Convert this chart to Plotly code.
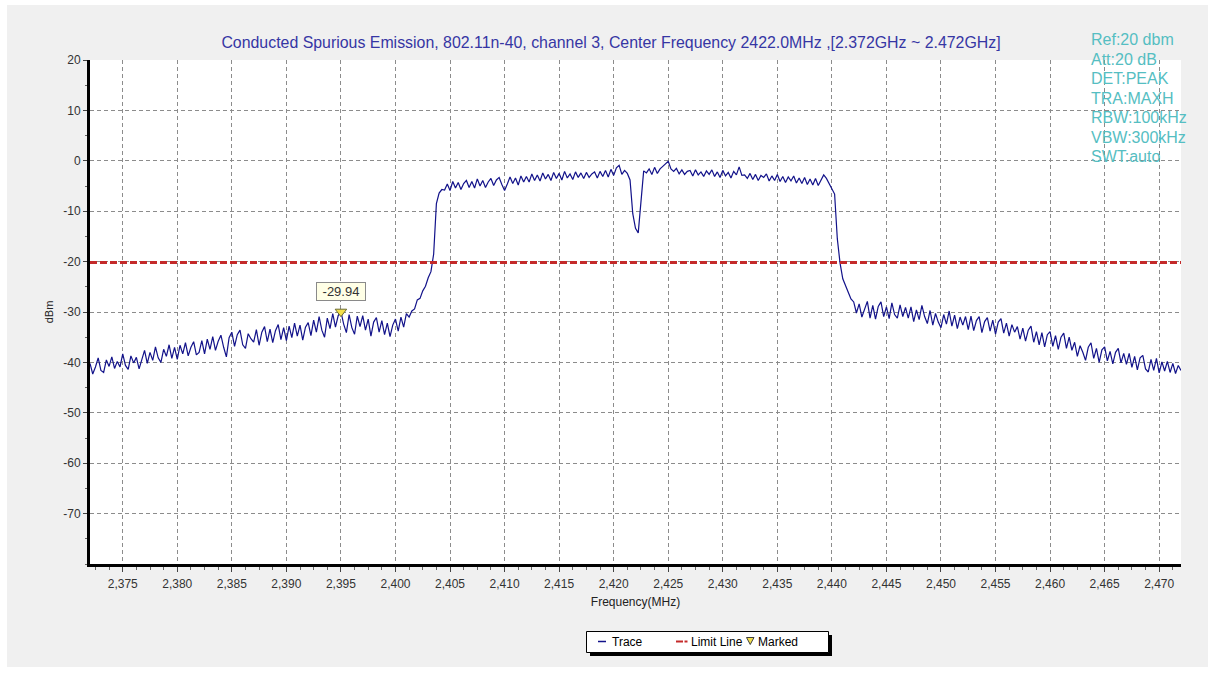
import plotly.graph_objects as go

# ---- sweep data -------------------------------------------------------------
FREQ_START_MHZ = 2372.0
FREQ_STEP_MHZ = 0.25

level_dbm = [
    -40.2, -42.3, -40.9, -39.1, -41.6, -42.0, -39.5, -40.8, -38.9, -41.2, -39.8, -40.9, -38.3, -40.6, -41.4, -38.7, -40.1, -39.0, -41.3, -39.4,
    -37.6, -40.2, -38.0, -39.6, -36.9, -39.1, -40.0, -37.4, -38.8, -36.5, -39.2, -37.0, -39.4, -36.6, -38.3, -36.1, -38.7, -37.0, -35.9, -38.5,
    -38.0, -35.7, -38.3, -35.4, -37.4, -34.9, -37.6, -35.8, -34.6, -37.0, -38.9, -35.1, -34.0, -36.8, -34.5, -33.6, -36.5, -37.2, -34.3, -35.3,
    -36.0, -33.5, -36.6, -34.0, -32.9, -35.9, -33.4, -36.1, -33.7, -32.5, -35.5, -33.1, -35.7, -32.8, -35.1, -32.2, -34.8, -32.6, -35.6, -33.0,
    -32.1, -34.7, -31.6, -34.0, -30.9, -33.6, -35.0, -31.2, -33.3, -30.3, -33.0, -30.7, -29.94, -32.4, -34.1, -30.5, -33.1, -34.4, -30.8, -32.9,
    -30.7, -33.6, -31.4, -34.8, -32.0, -31.1, -34.0, -31.7, -34.5, -32.2, -34.9, -32.6, -31.4, -33.8, -31.0, -33.0, -30.3, -31.0, -29.8, -29.4,
    -27.6, -27.3, -25.8, -24.9, -23.2, -22.0, -18.5, -8.5, -6.4, -5.7, -5.8, -4.6, -5.9, -4.1, -5.4, -4.3, -5.7, -4.5, -3.9, -5.3,
    -4.1, -5.4, -3.6, -5.0, -3.9, -5.3, -4.2, -3.5, -4.9, -3.8, -3.3, -4.7, -5.9, -4.6, -3.2, -4.5, -3.4, -4.8, -3.0, -4.2,
    -3.1, -4.2, -2.6, -3.9, -2.8, -4.0, -2.4, -3.6, -2.7, -3.9, -2.3, -3.5, -2.5, -3.8, -2.1, -3.4, -2.6, -3.7, -2.2, -3.3,
    -2.4, -3.5, -2.3, -3.3, -2.6, -2.2, -3.4, -2.1, -3.1, -1.9, -3.2, -1.7, -2.9, -1.4, -0.9, -2.7, -1.9, -2.5, -3.8, -10.5,
    -13.4, -14.3, -7.5, -2.0, -2.4, -1.6, -2.7, -1.3, -2.5, -1.6, -1.1, -0.6, -0.1, -1.6, -2.1, -1.5, -2.6, -1.8, -2.7, -2.1,
    -1.9, -3.0, -1.8, -2.8, -2.2, -3.1, -2.0, -2.7, -1.8, -3.1, -2.2, -3.3, -1.9, -3.0, -2.3, -3.4, -2.1, -2.8, -1.2, -2.9,
    -2.8, -3.5, -2.5, -3.7, -2.7, -3.9, -2.9, -3.3, -2.6, -4.0, -3.0, -3.9, -2.7, -4.1, -3.1, -4.3, -3.2, -4.0, -3.0, -4.4,
    -3.4, -4.5, -3.3, -4.7, -3.6, -4.8, -3.5, -4.9, -3.9, -2.8, -3.5, -4.6, -5.4, -6.6, -15.5, -20.3, -23.4, -24.9, -26.1, -27.4,
    -28.0, -30.2, -28.4, -31.0, -29.6, -27.9, -31.2, -28.7, -31.4, -28.9, -28.0, -30.9, -29.0, -31.3, -28.2, -30.5, -31.2, -28.6, -30.9, -29.1,
    -31.2, -29.0, -31.9, -29.6, -31.5, -28.7, -30.9, -32.3, -29.7, -32.6, -30.3, -32.0, -33.1, -30.5, -32.4, -29.8, -32.8, -30.6, -33.3, -31.0,
    -32.6, -30.9, -33.5, -30.8, -33.7, -31.7, -30.9, -34.1, -31.9, -31.1, -33.8, -31.6, -34.4, -32.0, -31.3, -34.2, -32.2, -34.8, -32.5, -34.0,
    -32.9, -35.4, -33.2, -35.8, -33.6, -32.8, -36.0, -33.9, -36.5, -34.1, -36.9, -34.5, -33.9, -36.8, -34.7, -37.4, -35.0, -34.2, -37.2, -35.0,
    -37.6, -36.0, -38.8, -36.7, -38.0, -39.6, -37.0, -36.1, -39.2, -37.2, -40.0, -37.5, -36.9, -39.7, -37.8, -40.3, -38.0, -37.2, -40.1, -38.2,
    -40.4, -38.2, -41.0, -38.8, -41.5, -39.1, -38.6, -41.3, -41.9, -39.4, -41.6, -39.2, -42.1, -39.9, -41.7, -39.8, -42.0, -40.2, -42.2, -40.6,
    -41.6,
]
freq_mhz = [FREQ_START_MHZ + FREQ_STEP_MHZ * i for i in range(len(level_dbm))]

limit_dbm = -20.2
marker_freq_mhz = 2395.0
marker_dbm = -29.94

x_range = [2372, 2472]
y_range = [-80, 20]
x_tick_vals = [2375, 2380, 2385, 2390, 2395, 2400, 2405, 2410, 2415, 2420,
               2425, 2430, 2435, 2440, 2445, 2450, 2455, 2460, 2465, 2470]
x_tick_text = ["2,375", "2,380", "2,385", "2,390", "2,395", "2,400", "2,405", "2,410", "2,415", "2,420",
               "2,425", "2,430", "2,435", "2,440", "2,445", "2,450", "2,455", "2,460", "2,465", "2,470"]
y_tick_vals = [20, 10, 0, -10, -20, -30, -40, -50, -60, -70]
y_tick_text = ["20", "10", "0", "-10", "-20", "-30", "-40", "-50", "-60", "-70"]

title_text = ("Conducted Spurious Emission, 802.11n-40, channel 3, "
              "Center Frequency 2422.0MHz ,[2.372GHz ~ 2.472GHz]")
info_lines = ["Ref:20 dbm", "Att:20 dB", "DET:PEAK", "TRA:MAXH",
              "RBW:100kHz", "VBW:300kHz", "SWT:auto"]

# ---- page geometry (pixels) -------------------------------------------------
W, H = 1213, 679
M_L, M_R, M_T, M_B = 90, 32, 60, 115
PW, PH = W - M_L - M_R, H - M_T - M_B
FONT = "Arial, Liberation Sans, sans-serif"
TRACE_COLOR = "#12128a"
LIMIT_COLOR = "#c42a2a"
MARK_FILL = "#f4e04a"


def px(x):
    return (x - M_L) / PW


def py(y):
    return (H - M_B - y) / PH


fig = go.Figure()

fig.add_trace(go.Scatter(
    x=freq_mhz, y=level_dbm, mode="lines", name="Trace",
    line=dict(color=TRACE_COLOR, width=1.2), showlegend=False,
))
fig.add_trace(go.Scatter(
    x=x_range, y=[limit_dbm, limit_dbm], mode="lines", name="Limit Line",
    line=dict(color=LIMIT_COLOR, width=3, dash="7px,3px"), showlegend=False,
))
fig.add_trace(go.Scatter(
    x=[marker_freq_mhz], y=[marker_dbm], mode="markers", name="Marked",
    marker=dict(symbol="triangle-down", size=10, color=MARK_FILL,
                line=dict(color="#6b6b30", width=1)),
    showlegend=False,
))

shapes = [
    # grey panel behind everything, white plotting area on top of it
    dict(type="rect", xref="paper", yref="paper", layer="below",
         x0=px(7), x1=px(1208), y0=py(667), y1=py(5),
         fillcolor="#f0f0f0", line=dict(width=0)),
    dict(type="rect", xref="paper", yref="paper", layer="below",
         x0=0, x1=1, y0=0, y1=1, fillcolor="white", line=dict(width=0)),
    # legend box with drop shadow
    dict(type="rect", xref="paper", yref="paper",
         x0=px(590), x1=px(832), y0=py(656), y1=py(635),
         fillcolor="black", line=dict(width=0)),
    dict(type="rect", xref="paper", yref="paper",
         x0=px(586.5), x1=px(828.5), y0=py(652.5), y1=py(631.5),
         fillcolor="white", line=dict(color="black", width=1)),
    dict(type="line", xref="paper", yref="paper",
         x0=px(598), x1=px(606), y0=py(641.5), y1=py(641.5),
         line=dict(color=TRACE_COLOR, width=1.5)),
    dict(type="line", xref="paper", yref="paper",
         x0=px(676), x1=px(683), y0=py(641.5), y1=py(641.5),
         line=dict(color=LIMIT_COLOR, width=2)),
    dict(type="line", xref="paper", yref="paper",
         x0=px(684.5), x1=px(687.5), y0=py(641.5), y1=py(641.5),
         line=dict(color=LIMIT_COLOR, width=2)),
    dict(type="path", xref="paper", yref="paper",
         path=(f"M {px(746.5)},{py(637.5)} L {px(754)},{py(637.5)} "
               f"L {px(750.25)},{py(644.5)} Z"),
         fillcolor=MARK_FILL, line=dict(color="#404040", width=1)),
]

annotations = [
    dict(x=marker_freq_mhz, y=marker_dbm, xref="x", yref="y",
         text=f"{marker_dbm:.2f}", showarrow=False, yshift=20,
         font=dict(family=FONT, size=13, color="#333333"),
         bgcolor="#ffffe6", bordercolor="#8a8a8a", borderwidth=1,
         borderpad=1, width=46, height=15),
    dict(x=px(610), y=py(641.5), xref="paper", yref="paper", text="Trace",
         showarrow=False, xanchor="left", yanchor="middle",
         font=dict(family=FONT, size=12, color="black")),
    dict(x=px(689), y=py(641.5), xref="paper", yref="paper", text="Limit Line",
         showarrow=False, xanchor="left", yanchor="middle",
         font=dict(family=FONT, size=12, color="black")),
    dict(x=px(756), y=py(641.5), xref="paper", yref="paper", text="Marked",
         showarrow=False, xanchor="left", yanchor="middle",
         font=dict(family=FONT, size=12, color="black")),
]
for i, line in enumerate(info_lines):
    annotations.append(dict(
        x=px(1089), y=py(40 + 19.4 * i), xref="paper", yref="paper",
        text=line, showarrow=False, xanchor="left", yanchor="middle",
        font=dict(family=FONT, size=16, color="#55bec2"),
    ))

fig.update_layout(
    width=W, height=H,
    margin=dict(l=M_L, r=M_R, t=M_T, b=M_B, autoexpand=False),
    paper_bgcolor="white", plot_bgcolor="rgba(0,0,0,0)",
    showlegend=False,
    title=dict(text=title_text, x=611 / W, xref="container", xanchor="center",
               y=1 - 42 / H, yref="container", yanchor="middle",
               font=dict(family=FONT, size=15.9, color="#3636a4")),
    shapes=shapes, annotations=annotations,
    font=dict(family=FONT, size=12, color="#333333"),
)

fig.update_xaxes(
    range=x_range, tickmode="array", tickvals=x_tick_vals, ticktext=x_tick_text,
    showgrid=True, gridcolor="#8c8c8c", griddash="4px,3px", gridwidth=1,
    zeroline=False, showline=True, linecolor="black", linewidth=3,
    ticks="outside", ticklen=5, tickwidth=1, tickcolor="#444444",
    ticklabelstandoff=2,
    minor=dict(tick0=2375, dtick=1.25, ticks="outside", ticklen=3,
               tickcolor="#666666", showgrid=False),
    tickfont=dict(family=FONT, size=12, color="#333333"),
    title=dict(text="Frequency(MHz)", standoff=8,
               font=dict(family=FONT, size=12, color="#222222")),
)
fig.update_yaxes(
    range=y_range, tickmode="array", tickvals=y_tick_vals, ticktext=y_tick_text,
    showgrid=True, gridcolor="#8c8c8c", griddash="4px,3px", gridwidth=1,
    zeroline=False, showline=True, linecolor="black", linewidth=3,
    ticks="outside", ticklen=4, tickwidth=1, tickcolor="#444444",
    minor=dict(tick0=0, dtick=5, ticks="outside", ticklen=2,
               tickcolor="#666666", showgrid=False),
    tickfont=dict(family=FONT, size=12, color="#333333"),
    title=dict(text="dBm", standoff=8,
               font=dict(family=FONT, size=11, color="#222222")),
)

fig.write_html("out.html")
